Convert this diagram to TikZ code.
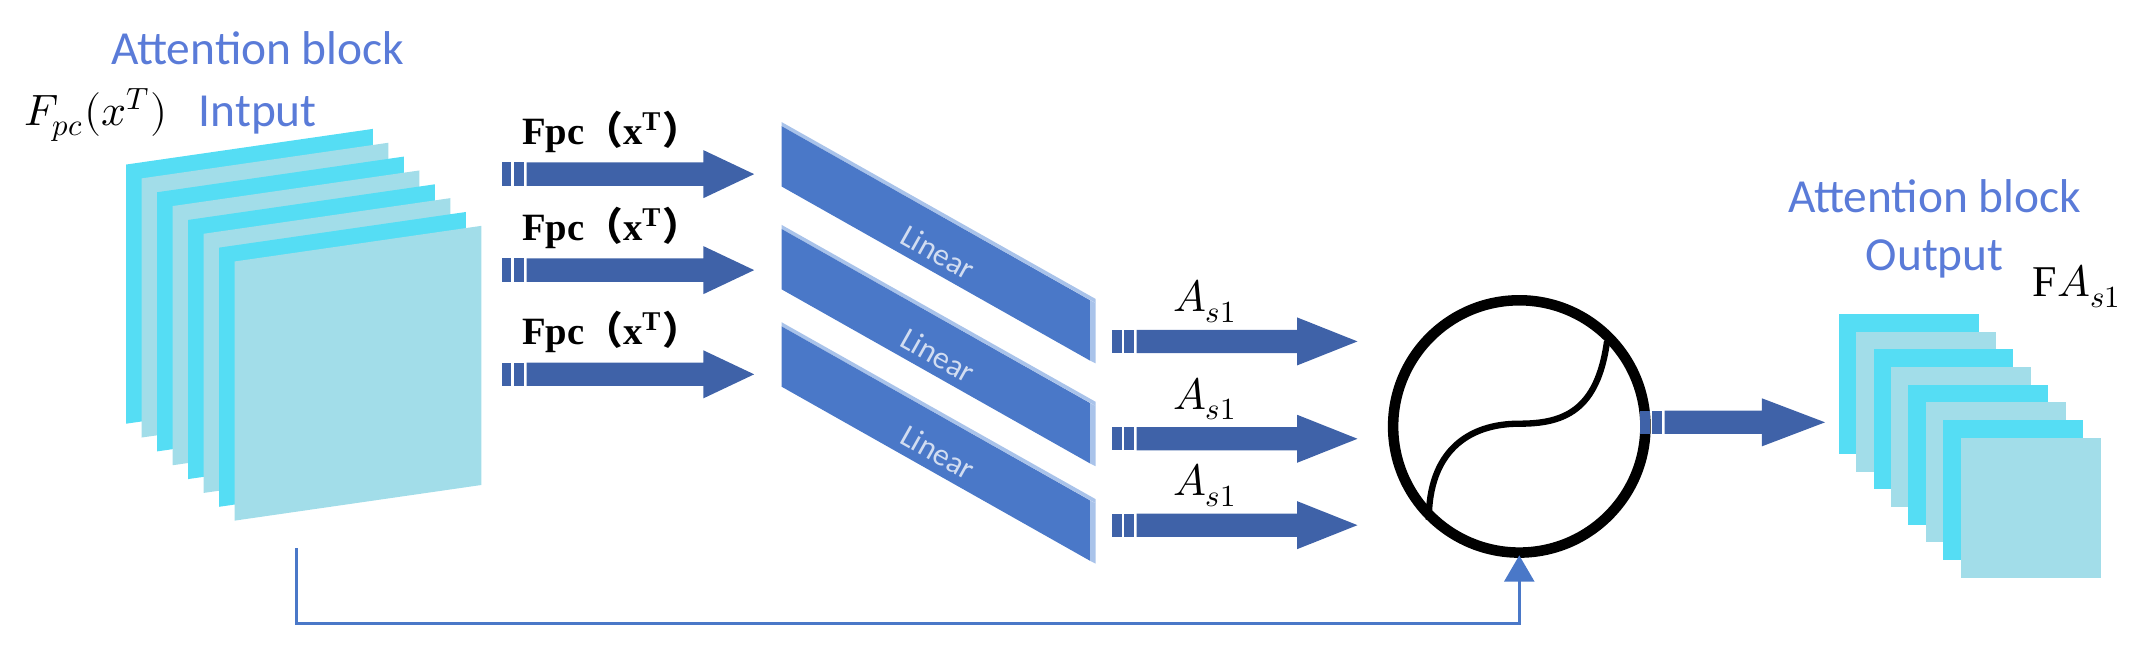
\documentclass[tikz,border=0pt]{standalone}
\usepackage{fontspec}
\setmainfont{Liberation Serif}
\newfontfamily\calfont{Carlito}
\newfontfamily\cjkfont{Noto Sans CJK SC}
\usepackage{unicode-math}
\usetikzlibrary{arrows.meta}
\definecolor{arrc}{HTML}{3F62A8}
\definecolor{barc}{HTML}{4A78C8}
\definecolor{barhl}{HTML}{A9C3EA}
\definecolor{txtb}{HTML}{5A7BD8}
\definecolor{bright}{HTML}{55DDF4}
\definecolor{pale}{HTML}{A2DDE9}
\definecolor{fbc}{HTML}{4A78C8}
\newcommand{\barrow}[4]{%
 \fill[arrc] (#1,#4-8.5) rectangle (#1+7,#4+8.5);
 \fill[arrc] (#1+9,#4-8.5) rectangle (#1+16,#4+8.5);
 \fill[arrc] (#1+18,#4-8.5) -- (#2,#4-8.5) -- (#2,#4-17.5) -- (#3,#4) -- (#2,#4+17.5) -- (#2,#4+8.5) -- (#1+18,#4+8.5) -- cycle;}
\newcommand{\linbar}[2]{%
 \fill[barhl] (570,#1-3) -- (799,#1+126) -- (799,#1+129) -- (570,#1) -- cycle;
 \fill[barc] (570,#1) -- (795,#1+127) -- (795,#1+171) -- (570,#1+44) -- cycle;
 \fill[barhl] (795,#1+127) -- (799,#1+129) -- (799,#1+173) -- (795,#1+171) -- cycle;
 \node[lin] (#2) at (684,#1+92) {Linear};}
\begin{document}
\begin{tikzpicture}[x=0.013712cm,y=-0.013718cm,
  lin/.style={font=\calfont\fontsize{9}{9}\selectfont, text=white!75!barc, rotate=-29.4, inner sep=0},
  bt/.style={font=\calfont\fontsize{13.5}{14}\selectfont, text=txtb, inner sep=0},
  fl/.style={font=\bfseries\fontsize{11}{12}\selectfont, inner sep=0},
  al/.style={font=\fontsize{12.5}{13}\selectfont, inner sep=0}]
\useasboundingbox (0,0) rectangle (1568,476);
% input stack
\foreach \i in {0,...,7}{
  \pgfmathsetmacro{\xx}{92+11.3*\i}
  \pgfmathsetmacro{\yy}{120+10.1*\i}
  \pgfmathparse{int(mod(\i,2))}
  \ifnum\pgfmathresult=0 \def\cc{bright}\else\def\cc{pale}\fi
  \fill[\cc] (\xx,\yy) -- (\xx+180,\yy-26) -- (\xx+180,\yy+163) -- (\xx,\yy+189) -- cycle;
}
\node[bt] (ab1) at (188,35) {Attention block};
\node[inner sep=0, font=\fontsize{12.5}{13}\selectfont] (fin) at (70,84) {$F_{pc}(x^{T})$};
\node[bt] (inp) at (188,84) {Intput};
% input arrows
\foreach \y/\n in {127/1,197/2,273/3}{
  \barrow{366}{513}{550}{\y}
  \node[fl] (fl\n) at (446,\y-31) {Fpc{\cjkfont （}x\textsuperscript{T}{\cjkfont ）}};
}
% linear bars
\linbar{92}{lin1}
\linbar{167}{lin2}
\linbar{238}{lin3}
% As1 arrows
\foreach \y/\n in {249/1,320/2,383/3}{
  \barrow{811}{946}{990}{\y}
  \node[al] (as\n) at (879,\y-29) {$A_{s1}$};
}
% multiplication circle
\coordinate (mc) at (1108,311);
\draw[line width=3pt] (mc) circle[radius=92];
\draw[line width=1.8pt] (1172,249) .. controls (1165,300) and (1140,309) .. (1108,309) .. controls (1070,309) and (1042,330) .. (1042,379);
% output arrow
\barrow{1196}{1285}{1331}{308}
% output stack
\foreach \i in {0,...,7}{
  \pgfmathsetmacro{\xx}{1341+12.7*\i}
  \pgfmathsetmacro{\yy}{229+12.9*\i}
  \pgfmathparse{int(mod(\i,2))}
  \ifnum\pgfmathresult=0 \def\cc{bright}\else\def\cc{pale}\fi
  \fill[\cc] (\xx,\yy) rectangle (\xx+102,\yy+102);
}
\node[bt] (ab2) at (1411,143) {Attention block};
\node[bt] (outp) at (1411,189) {Output};
\node[al] (fa) at (1515,209) {$\mathrm{F}A_{s1}$};
% feedback
\coordinate (fb0) at (216,400);
\coordinate (fbin) at (1108,405);
\draw[fbc, line width=0.9pt, -{Triangle[width=8.5pt,length=7.5pt]}] (fb0) -- (216,455) -- (1108,455) -- (fbin);
\end{tikzpicture}
\end{document}
